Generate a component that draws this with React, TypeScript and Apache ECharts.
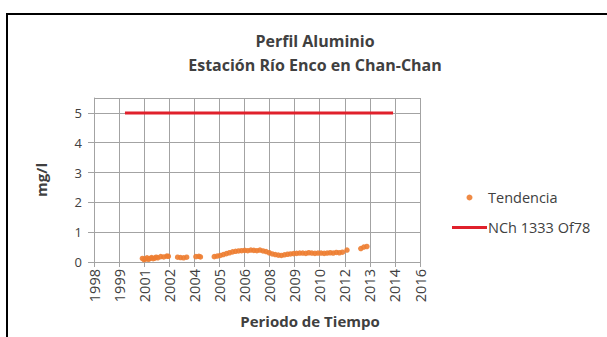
import React, { useEffect, useRef } from "react";
import * as echarts from "echarts";

// Excel-style date axis (serial days), labels show the year
const xAxisMin = 36000;
const xAxisMax = 42500;
const xAxisStep = 500;
const yTicks = [0, 1, 2, 3, 4, 5];

// "Tendencia" sample dates (YYYY-MM-DD) and Al values (mg/l)
const trendDates = [
  "2001-03-15", "2001-04-15", "2001-05-15", "2001-06-15", "2001-07-15", "2001-08-15",
  "2001-09-15", "2001-10-15", "2001-11-15", "2001-12-15", "2002-01-15", "2002-03-15",
  "2002-05-15", "2002-07-15", "2002-08-15",
  "2003-02-15", "2003-04-15", "2003-06-15", "2003-08-15",
  "2004-02-15", "2004-04-15", "2004-05-15",
  "2005-02-15", "2005-04-15", "2005-06-15", "2005-08-15", "2005-10-15", "2005-12-15",
  "2006-02-15", "2006-04-15", "2006-06-15", "2006-08-15", "2006-10-15", "2006-12-15",
  "2007-02-15", "2007-04-15", "2007-06-15", "2007-08-15", "2007-10-15", "2007-12-15",
  "2008-02-15", "2008-04-15", "2008-06-15", "2008-08-15", "2008-10-15", "2008-12-15",
  "2009-02-15", "2009-04-15", "2009-06-15", "2009-08-15", "2009-10-15", "2009-12-15",
  "2010-02-15", "2010-04-15", "2010-06-15", "2010-08-15", "2010-10-15", "2010-12-15",
  "2011-02-15", "2011-04-15", "2011-06-15", "2011-08-15", "2011-10-15", "2011-12-15",
  "2012-02-15", "2012-05-15",
  "2013-02-15", "2013-04-15", "2013-06-15",
];
const trendValues = [
  0.12, 0.08, 0.10, 0.14, 0.09, 0.12,
  0.15, 0.11, 0.13, 0.16, 0.14, 0.18,
  0.17, 0.20, 0.19,
  0.16, 0.15, 0.14, 0.16,
  0.18, 0.19, 0.17,
  0.18, 0.20, 0.22, 0.25, 0.28, 0.31,
  0.34, 0.36, 0.37, 0.38, 0.39, 0.38,
  0.40, 0.39, 0.38, 0.40, 0.37, 0.35,
  0.31, 0.27, 0.25, 0.23, 0.22, 0.24,
  0.26, 0.27, 0.28, 0.29, 0.30, 0.30,
  0.29, 0.31, 0.30, 0.29, 0.30, 0.30,
  0.29, 0.30, 0.31, 0.30, 0.32, 0.31,
  0.33, 0.40,
  0.45, 0.50, 0.52,
];

// Norm limit NCh 1333 Of78
const normDates = ["2000-04-01", "2014-11-20"];
const normValues = [5, 5];

const toSerial = (s: string) => {
  const [y, m, d] = s.split("-").map(Number);
  return (Date.UTC(y, m - 1, d) - Date.UTC(1899, 11, 30)) / 86400000;
};
const serialYear = (v: number) =>
  new Date(Date.UTC(1899, 11, 30) + v * 86400000).getUTCFullYear();

const FONT = "'Open Sans', 'Noto Sans', sans-serif";

export default function App() {
  const ref = useRef<HTMLDivElement>(null);
  useEffect(() => {
    if (!ref.current) return;
    const chart = echarts.init(ref.current, null, { renderer: "svg" });
    const grid = "#a3a3a3";
    chart.setOption({
      animation: false,
      backgroundColor: "#ffffff",
      textStyle: { fontFamily: FONT },
      title: [
        {
          text: "Perfil Aluminio\nEstación Río Enco en Chan-Chan",
          left: 310,
          top: 24,
          textAlign: "center",
          textStyle: {
            fontFamily: FONT,
            fontSize: 16,
            fontWeight: "bold",
            color: "#404040",
            lineHeight: 24,
          },
        },
        {
          text: "Periodo de Tiempo",
          left: 305,
          top: 308,
          textAlign: "center",
          textStyle: { fontFamily: FONT, fontSize: 15, fontWeight: "bold", color: "#404040" },
        },
      ],
      legend: {
        orient: "vertical",
        left: 447,
        top: 185,
        itemWidth: 35,
        itemHeight: 6,
        itemGap: 15,
        symbolKeepAspect: true,
        textStyle: { fontFamily: FONT, fontSize: 14.5, color: "#404040", padding: [0, 0, 0, -4] },
        data: [
          { name: "Tendencia", icon: "circle" },
          { name: "NCh 1333 Of78", icon: "path://M0,0 L35,0 L35,3 L0,3 Z" },
        ],
      },
      grid: { left: 94, right: 187, top: 98, bottom: 75, containLabel: false },
      xAxis: {
        type: "value",
        min: xAxisMin,
        max: xAxisMax,
        interval: xAxisStep,
        axisLine: { show: true, lineStyle: { color: grid } },
        axisTick: { show: true, length: 5, lineStyle: { color: grid } },
        splitLine: { show: true, lineStyle: { color: grid, width: 1 } },
        axisLabel: {
          rotate: 90,
          margin: 7,
          fontFamily: FONT,
          fontSize: 14.5,
          color: "#404040",
          formatter: (v: number) => String(serialYear(v)),
        },
      },
      yAxis: {
        type: "value",
        min: 0,
        max: 5.5,
        interval: 1,
        name: "mg/l",
        nameLocation: "middle",
        nameGap: 46,
        nameRotate: 90,
        nameTextStyle: { fontFamily: FONT, fontSize: 15, fontWeight: "bold", color: "#404040" },
        axisLine: { show: true, lineStyle: { color: grid } },
        axisTick: { show: true, length: 6, lineStyle: { color: grid } },
        splitLine: { show: true, lineStyle: { color: grid, width: 1 } },
        axisLabel: {
          margin: 12,
          fontFamily: FONT,
          fontSize: 13,
          color: "#404040",
          showMaxLabel: false,
          formatter: (v: number) => (yTicks.includes(v) ? String(v) : ""),
        },
      },
      series: [
        {
          name: "Tendencia",
          type: "scatter",
          symbol: "circle",
          symbolSize: 5.5,
          itemStyle: { color: "#ED7D31", opacity: 0.9 },
          data: trendDates.map((d, i) => [toSerial(d), trendValues[i]]),
          z: 3,
        },
        {
          name: "NCh 1333 Of78",
          type: "line",
          symbol: "none",
          showSymbol: false,
          lineStyle: { color: "#E0202B", width: 3 },
          itemStyle: { color: "#E0202B" },
          data: normDates.map((d, i) => [toSerial(d), normValues[i]]),
          z: 2,
        },
      ],
      graphic: [
        {
          type: "rect",
          silent: true,
          shape: { x: 7, y: 14, width: 700, height: 400 },
          style: { fill: "none", stroke: "#000000", lineWidth: 2 },
          z: 10,
        },
      ],
    });
    return () => chart.dispose();
  }, []);
  return (
    <div
      ref={ref}
      style={{ position: "fixed", left: 0, top: 0, width: 607, height: 337, background: "#fff" }}
    />
  );
}
